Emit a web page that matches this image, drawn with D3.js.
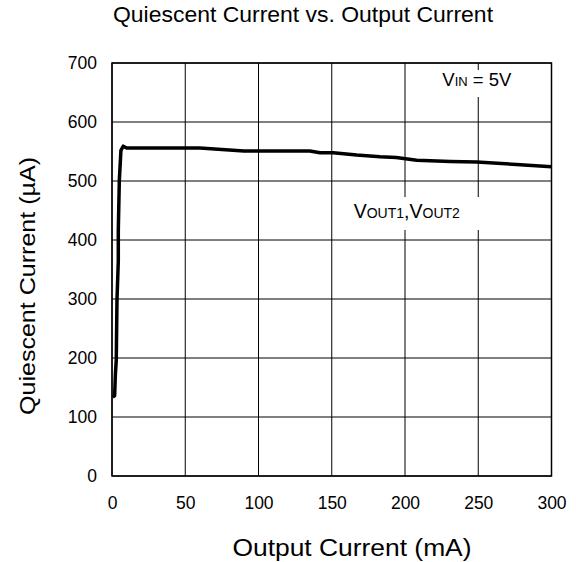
<!DOCTYPE html>
<html>
<head>
<meta charset="utf-8">
<script src="https://cdn.jsdelivr.net/npm/d3@7"></script>
<style>
  body { margin: 0; background: #fff; }
  text { font-family: "Liberation Sans", Arial, sans-serif; fill: #000; }
</style>
</head>
<body>
<div id="chart"></div>
<script>
// Chart data
const outputCurrent = [0.5, 1.8, 2.3, 2.9, 3.4, 4.3, 4.3, 5.0, 6.1, 7.7, 10, 60, 90, 135, 142, 151, 167, 183, 194, 208, 231, 249, 276, 300];
const quiescent = [134, 136, 172, 196, 298, 365, 416, 501, 552, 559, 556, 556, 551, 551, 548, 548, 544, 541, 540, 535, 533, 532, 528, 524];
const xTicks = [0, 50, 100, 150, 200, 250, 300];
const yTicks = [0, 100, 200, 300, 400, 500, 600, 700];

const width = 576, height = 562;
const margin = { left: 112, top: 63, right: 24.5, bottom: 86 };
const plotW = width - margin.left - margin.right;
const plotH = height - margin.top - margin.bottom;

const svg = d3.select('#chart')
  .append('svg')
    .attr('width', width)
    .attr('height', height);

const x = d3.scaleLinear().domain([0, 300]).range([0, plotW]);
const y = d3.scaleLinear().domain([0, 700]).range([plotH, 0]);

const g = svg.append('g')
  .attr('transform', `translate(${margin.left},${margin.top})`);

// grid lines
g.append('g')
  .selectAll('line')
  .data(xTicks)
  .join('line')
    .attr('x1', d => x(d)).attr('x2', d => x(d))
    .attr('y1', 0).attr('y2', plotH)
    .attr('stroke', '#000').attr('stroke-width', 1);

g.append('g')
  .selectAll('line')
  .data(yTicks)
  .join('line')
    .attr('x1', 0).attr('x2', plotW)
    .attr('y1', d => y(d)).attr('y2', d => y(d))
    .attr('stroke', '#000').attr('stroke-width', 1);

// white boxes behind the labels
g.append('rect')
  .attr('x', x(224)).attr('y', 7)
  .attr('width', x(300) - x(224) - 1).attr('height', 27)
  .attr('fill', '#fff');
g.append('rect')
  .attr('x', x(158)).attr('y', 134)
  .attr('width', x(255) - x(158)).attr('height', 33)
  .attr('fill', '#fff');

// border
g.append('rect')
  .attr('width', plotW).attr('height', plotH)
  .attr('fill', 'none').attr('stroke', '#000').attr('stroke-width', 1.5);

// axes labels
const xAxis = d3.axisBottom(x).tickValues(xTicks).tickSize(0).tickPadding(21);
const xg = g.append('g').attr('transform', `translate(0,${plotH})`).call(xAxis);
xg.select('.domain').remove();
xg.selectAll('text').style('font-size', '17.5px').attr('font-family', null);

const yAxis = d3.axisLeft(y).tickValues(yTicks).tickSize(0).tickPadding(15);
const yg = g.append('g').call(yAxis);
yg.select('.domain').remove();
yg.selectAll('text').style('font-size', '17.5px').attr('font-family', null);

// curve
const line = d3.line()
  .x((d, i) => x(outputCurrent[i]))
  .y(d => y(d));

g.append('path')
  .datum(quiescent)
  .attr('d', line)
  .attr('fill', 'none')
  .attr('stroke', '#000')
  .attr('stroke-width', 3.5)
  .attr('stroke-linejoin', 'round');

// annotations
const vin = g.append('text')
  .attr('x', x(225.5)).attr('y', 23)
  .style('font-size', '18.5px');
vin.append('tspan').text('V');
vin.append('tspan').style('font-size', '13px').text('IN');
vin.append('tspan').text(' = 5V');

const vout = g.append('text')
  .attr('x', x(165)).attr('y', 155)
  .style('font-size', '19.5px');
vout.append('tspan').text('V');
vout.append('tspan').style('font-size', '14px').text('OUT1');
vout.append('tspan').text(',V');
vout.append('tspan').style('font-size', '14px').text('OUT2');

// titles
svg.append('text')
  .attr('x', 303).attr('y', 22)
  .attr('text-anchor', 'middle')
  .attr('textLength', 380).attr('lengthAdjust', 'spacingAndGlyphs')
  .style('font-size', '22px')
  .text('Quiescent Current vs. Output Current');

svg.append('text')
  .attr('x', 352).attr('y', 556)
  .attr('text-anchor', 'middle')
  .attr('textLength', 239).attr('lengthAdjust', 'spacingAndGlyphs')
  .style('font-size', '23px')
  .text('Output Current (mA)');

svg.append('text')
  .attr('transform', 'translate(35,286) rotate(-90)')
  .attr('text-anchor', 'middle')
  .attr('textLength', 258).attr('lengthAdjust', 'spacingAndGlyphs')
  .style('font-size', '22px')
  .text('Quiescent Current (\u00b5A)');
</script>
</body>
</html>
